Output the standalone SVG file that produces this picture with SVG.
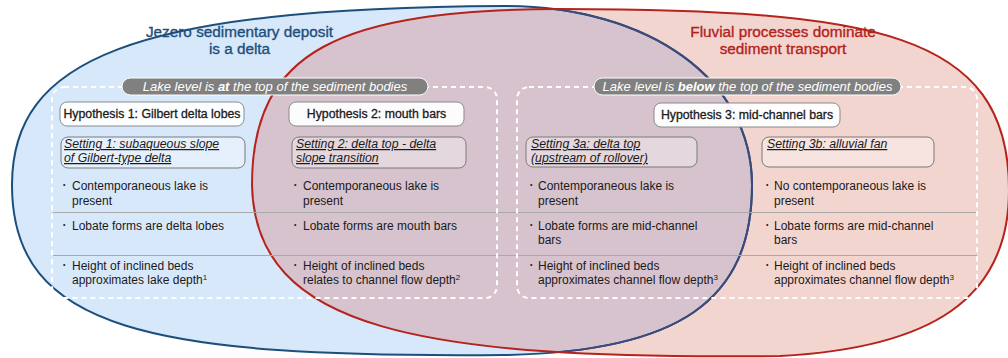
<svg xmlns="http://www.w3.org/2000/svg" width="1008" height="358" viewBox="0 0 1008 358">
<defs>
<style>
text{font-family:"Liberation Sans",Arial,sans-serif;fill:#1a1a1a}
.title{font-size:15.3px;text-anchor:middle;stroke-width:0.35}
.blueT{fill:#1d4f7c;stroke:#1d4f7c}
.redT{fill:#b3221b;stroke:#b3221b}
.pill{fill:#808080;stroke:#ffffff;stroke-width:1}
.pillT{font-size:13px;font-style:italic;fill:#ffffff;text-anchor:middle}
.dash{fill:none;stroke:#ffffff;stroke-width:2;stroke-dasharray:5 4}
.hyp{fill:#ffffff;fill-opacity:0.95;stroke:#8a8a8a;stroke-width:1}
.hypT{font-size:12.3px;text-anchor:middle;stroke:#1a1a1a;stroke-width:0.3}
.set{fill:#ffffff;fill-opacity:0.35;stroke:#7a7a7a;stroke-width:1}
.setT{font-size:12.3px;font-style:italic;text-decoration:underline}
.bT{font-size:12px}
.dot{font-size:7px}
.sep{stroke:#a9a9a9;stroke-width:1}
</style>
<path id="blueP" d="M12,185 C12,60 130,8 504,6 C650,6 752,80 752,185 C752,300 680,352 504,355 C150,358 12,330 12,185 Z"/>
<path id="redP" d="M252,185 C252,50 340,10 560,9 C870,10 1009,30 1009,190 C1009,300 930,348 780,356 C420,360 255,330 252,185 Z"/>
<clipPath id="redClip"><use href="#redP"/></clipPath>
</defs>

<g id="sets">
<use href="#blueP" fill="#d7e8fb"/>
<use href="#redP" fill="#f3d5d0"/>
<use href="#blueP" fill="#d6c3cd" clip-path="url(#redClip)"/>
<use href="#blueP" fill="none" stroke="#1c4f7c" stroke-width="2"/>
<use href="#blueP" fill="none" stroke="#3d4a7a" stroke-width="2" clip-path="url(#redClip)"/>
<use href="#redP" fill="none" stroke="#b5231c" stroke-width="2"/>
</g>

<g id="titles">
<text class="title blueT" x="239.5" y="37">Jezero sedimentary deposit</text>
<text class="title blueT" x="239.5" y="54">is a delta</text>
<text class="title redT" x="783" y="37">Fluvial processes dominate</text>
<text class="title redT" x="783" y="54">sediment transport</text>
</g>

<g id="connectors">
<line class="sep" x1="53" y1="212.5" x2="977" y2="212.5"/>
<line class="sep" x1="53" y1="255.5" x2="977" y2="255.5"/>
</g>

<g id="groupLeft">
<rect class="dash" x="52" y="87" width="445" height="211" rx="12"/>
<rect class="pill" x="122" y="78" width="306" height="17" rx="8.5"/>
<text class="pillT" x="275" y="91">Lake level is <tspan font-weight="bold">at</tspan> the top of the sediment bodies</text>
</g>

<g id="groupRight">
<rect class="dash" x="517" y="87" width="460" height="211" rx="12"/>
<rect class="pill" x="594" y="78" width="307" height="17" rx="8.5"/>
<text class="pillT" x="747.5" y="91">Lake level is <tspan font-weight="bold">below</tspan> the top of the sediment bodies</text>
</g>

<g id="hyp1">
<rect class="hyp" x="60" y="102" width="184" height="24" rx="7"/>
<text class="hypT" x="152" y="118">Hypothesis 1: Gilbert delta lobes</text>
</g>
<g id="hyp2">
<rect class="hyp" x="289" y="102" width="175" height="24" rx="7"/>
<text class="hypT" x="376.5" y="118">Hypothesis 2: mouth bars</text>
</g>
<g id="hyp3">
<rect class="hyp" x="654" y="103" width="186" height="24" rx="7"/>
<text class="hypT" x="747" y="119">Hypothesis 3: mid-channel bars</text>
</g>

<g id="setting1">
<rect class="set" x="61" y="137" width="184" height="31" rx="7"/>
<text class="setT" x="64" y="148">Setting 1: subaqueous slope</text>
<text class="setT" x="64" y="162">of Gilbert-type delta</text>
</g>
<g id="setting2">
<rect class="set" x="292" y="137" width="174" height="31" rx="7"/>
<text class="setT" x="296" y="148">Setting 2: delta top - delta</text>
<text class="setT" x="296" y="162">slope transition</text>
</g>
<g id="setting3a">
<rect class="set" x="526" y="137" width="171" height="30" rx="7"/>
<text class="setT" x="531" y="148">Setting 3a: delta top</text>
<text class="setT" x="531" y="162">(upstream of rollover)</text>
</g>
<g id="setting3b">
<rect class="set" x="762" y="137" width="172" height="30" rx="7"/>
<text class="setT" x="767" y="148">Setting 3b: alluvial fan</text>
</g>

<g id="col1">
<text class="dot" x="63" y="187">•</text>
<text class="bT" x="72" y="190">Contemporaneous lake is</text>
<text class="bT" x="72" y="205">present</text>
<text class="dot" x="63" y="227">•</text>
<text class="bT" x="72" y="230">Lobate forms are delta lobes</text>
<text class="dot" x="63" y="267">•</text>
<text class="bT" x="72" y="270">Height of inclined beds</text>
<text class="bT" x="72" y="284">approximates lake depth<tspan font-size="8" dy="-4">1</tspan></text>
</g>
<g id="col2">
<text class="dot" x="294" y="187">•</text>
<text class="bT" x="303" y="190">Contemporaneous lake is</text>
<text class="bT" x="303" y="205">present</text>
<text class="dot" x="294" y="227">•</text>
<text class="bT" x="303" y="230">Lobate forms are mouth bars</text>
<text class="dot" x="294" y="267">•</text>
<text class="bT" x="303" y="270">Height of inclined beds</text>
<text class="bT" x="303" y="284">relates to channel flow depth<tspan font-size="8" dy="-4">2</tspan></text>
</g>
<g id="col3a">
<text class="dot" x="530" y="187">•</text>
<text class="bT" x="538" y="190">Contemporaneous lake is</text>
<text class="bT" x="538" y="205">present</text>
<text class="dot" x="530" y="227">•</text>
<text class="bT" x="538" y="230">Lobate forms are mid-channel</text>
<text class="bT" x="538" y="244">bars</text>
<text class="dot" x="530" y="267">•</text>
<text class="bT" x="538" y="270">Height of inclined beds</text>
<text class="bT" x="538" y="284">approximates channel flow depth<tspan font-size="8" dy="-4">3</tspan></text>
</g>
<g id="col3b">
<text class="dot" x="766" y="187">•</text>
<text class="bT" x="774" y="190">No contemporaneous lake is</text>
<text class="bT" x="774" y="205">present</text>
<text class="dot" x="766" y="227">•</text>
<text class="bT" x="774" y="230">Lobate forms are mid-channel</text>
<text class="bT" x="774" y="244">bars</text>
<text class="dot" x="766" y="267">•</text>
<text class="bT" x="774" y="270">Height of inclined beds</text>
<text class="bT" x="774" y="284">approximates channel flow depth<tspan font-size="8" dy="-4">3</tspan></text>
</g>
</svg>
